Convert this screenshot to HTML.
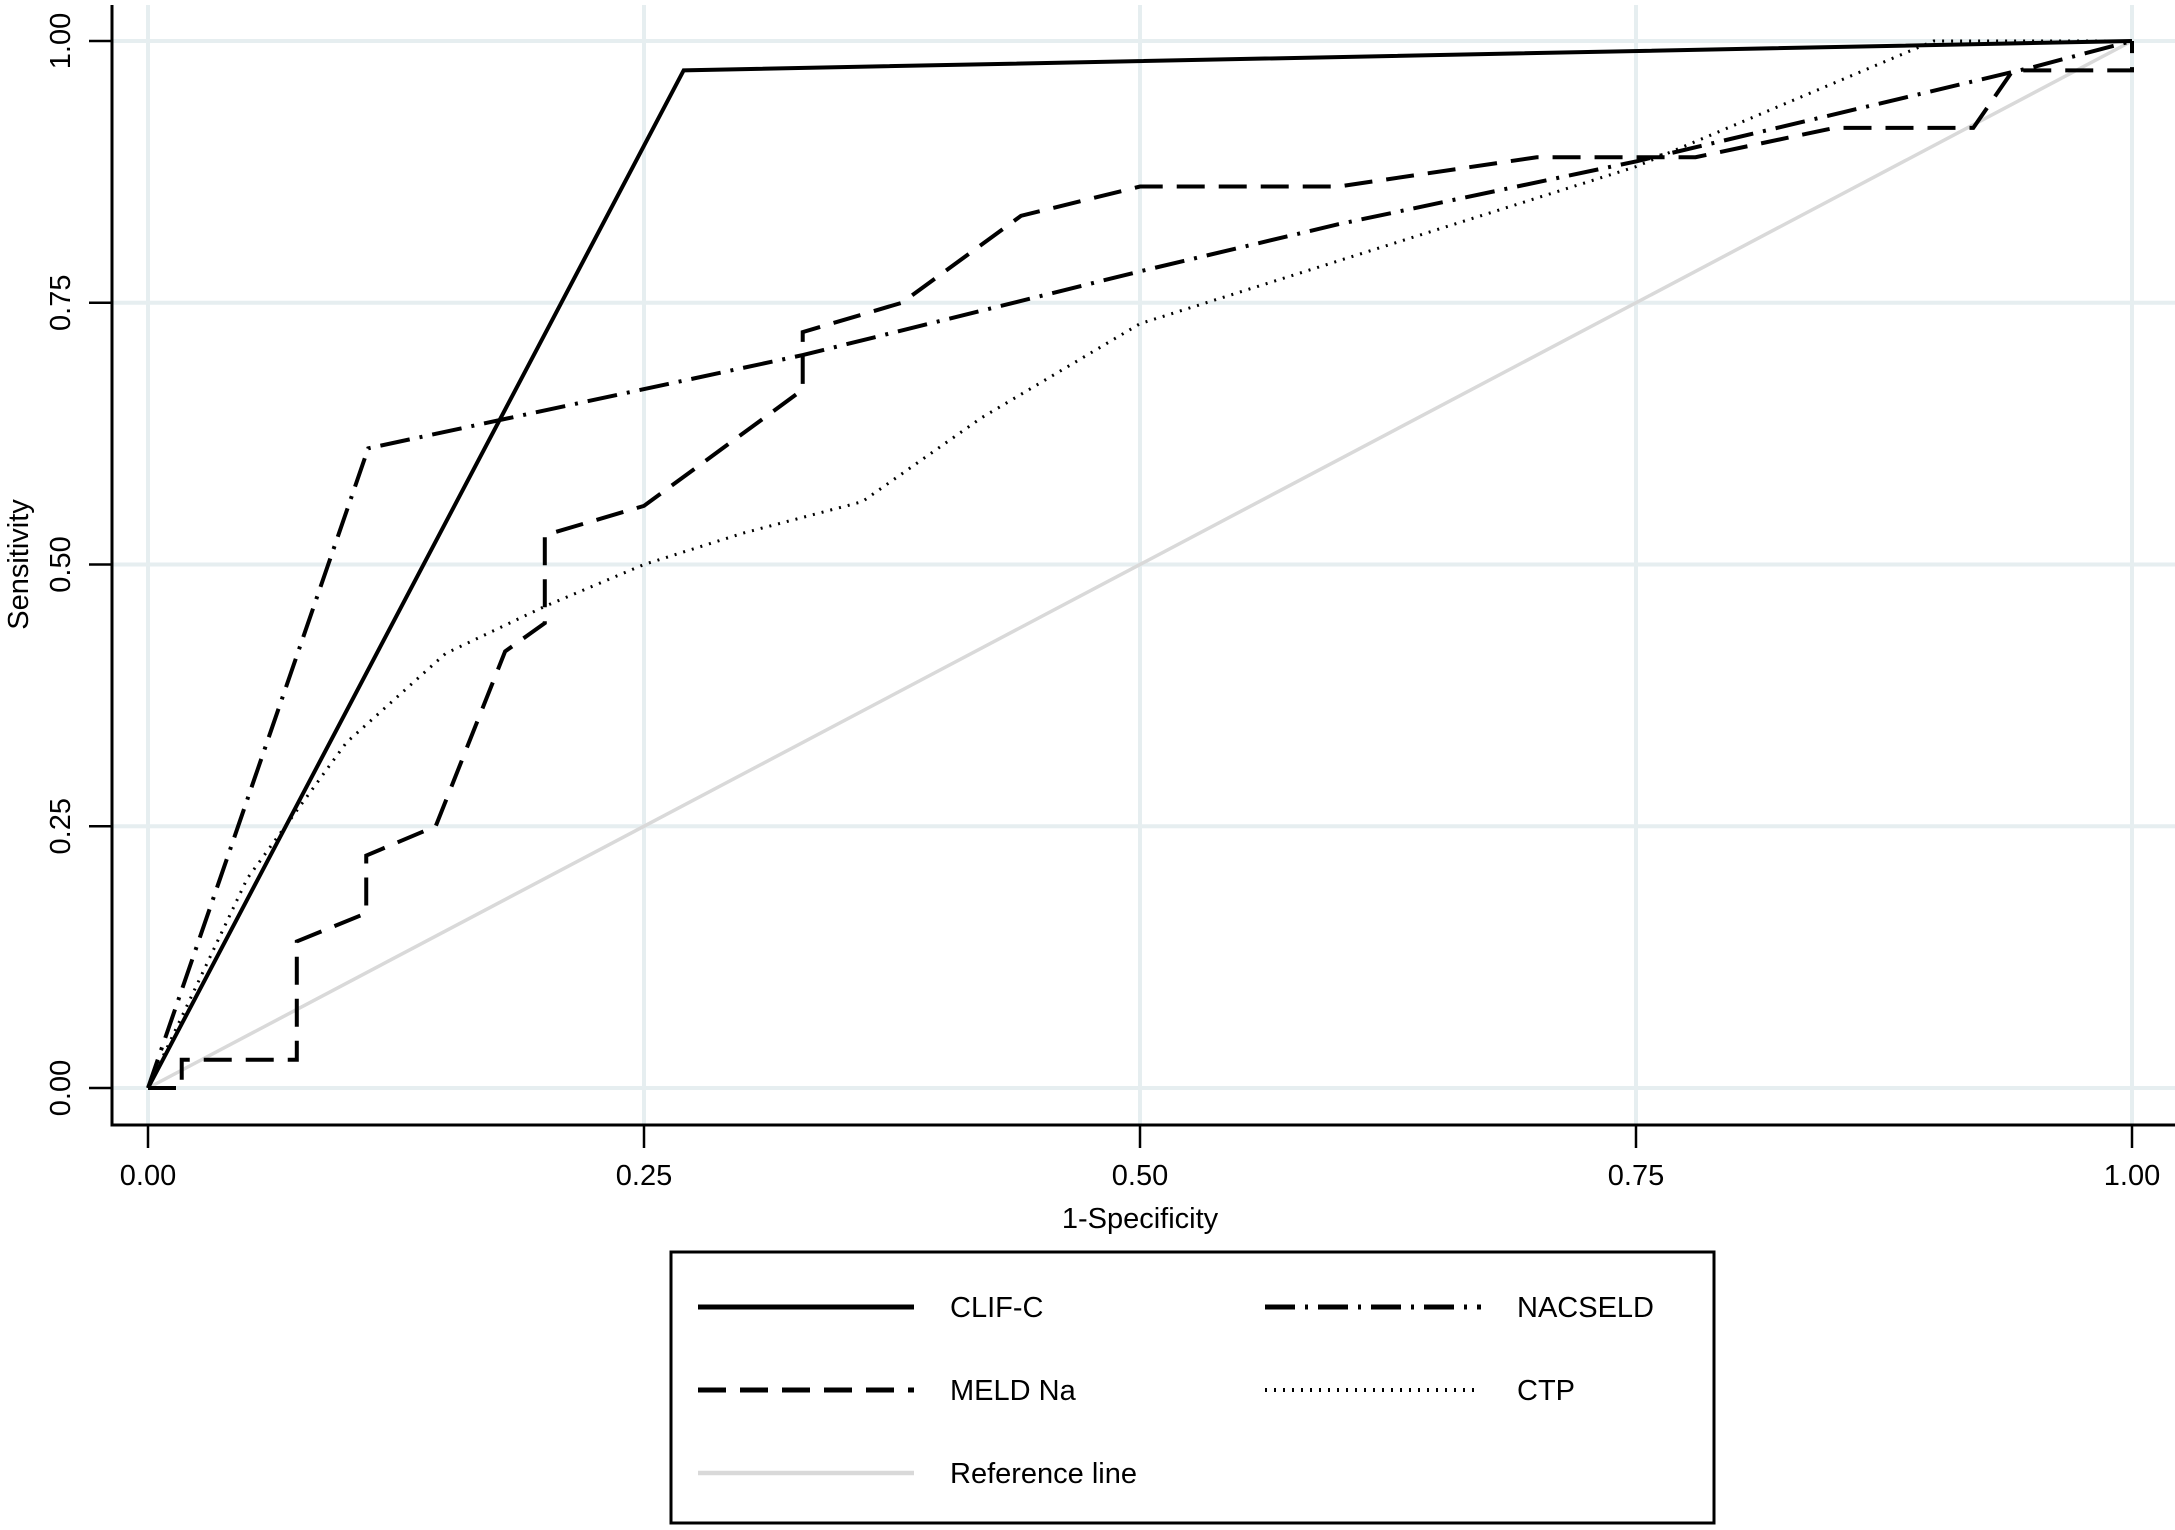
<!DOCTYPE html>
<html><head><meta charset="utf-8"><style>
html,body{margin:0;padding:0;background:#fff;}
svg{display:block;font-family:"Liberation Sans",sans-serif;}
</style></head><body>
<svg id="chart" width="2175" height="1530" viewBox="0 0 2175 1530" xmlns="http://www.w3.org/2000/svg">
<rect width="2175" height="1530" fill="#fff"/>
<g id="grid"></g>
<g id="series"></g>
<g id="axes"></g>
<g id="legend"></g>
</svg>
<script>
const xTicks=[0,0.25,0.5,0.75,1];
const yTicks=[0,0.25,0.5,0.75,1];
const tickLabels=["0.00","0.25","0.50","0.75","1.00"];
const clifX=[0,0.27,1];
const clifY=[0,0.972,1];
const nacX=[0,0.111,0.33,0.5,0.6,0.75,0.95,1];
const nacY=[0,0.611,0.70,0.78,0.825,0.885,0.975,1];
const meldX=[0,0.017,0.017,0.075,0.075,0.11,0.11,0.145,0.18,0.2,0.2,0.25,0.33,0.33,0.38,0.44,0.5,0.6,0.7,0.78,0.85,0.92,0.94,1,1];
const meldY=[0,0,0.027,0.027,0.14,0.167,0.222,0.25,0.417,0.444,0.528,0.556,0.667,0.722,0.75,0.833,0.861,0.861,0.889,0.889,0.917,0.917,0.972,0.972,1];
const ctpX=[0,0.05,0.1,0.15,0.2,0.25,0.3,0.36,0.42,0.5,0.6,0.75,0.9,1];
const ctpY=[0,0.2,0.33,0.415,0.46,0.5,0.53,0.56,0.64,0.73,0.79,0.88,1,1];
const refX=[0,1];
const refY=[0,1];

const NS="http://www.w3.org/2000/svg";
const X0=148,X1=2132,Y0=1088,Y1=41;
function sx(v){return X0+(X1-X0)*v;}
function sy(v){return Y0-(Y0-Y1)*v;}
function mk(tag,attrs,parent){const e=document.createElementNS(NS,tag);for(const k in attrs)e.setAttribute(k,attrs[k]);parent.appendChild(e);return e;}
const grid=document.getElementById('grid'),axes=document.getElementById('axes'),series=document.getElementById('series'),legend=document.getElementById('legend');

xTicks.forEach((t,i)=>{
  const g=mk('line',{x1:sx(t),x2:sx(t),y1:5,y2:1125,stroke:'#e6eef0','stroke-width':4},grid);
  
  
  const tk=mk('line',{x1:sx(t),x2:sx(t),y1:1125,y2:1148,stroke:'#000','stroke-width':2.5},axes);
  
  
  const tx=mk('text',{x:sx(t),y:1185,'text-anchor':'middle','font-size':29,fill:'#000'},axes);
  tx.textContent=tickLabels[i];
  
  
});
yTicks.forEach((t,i)=>{
  const g=mk('line',{x1:112,x2:2175,y1:sy(t),y2:sy(t),stroke:'#e6eef0','stroke-width':4},grid);
  
  
  const tk=mk('line',{x1:89,x2:112,y1:sy(t),y2:sy(t),stroke:'#000','stroke-width':2.5},axes);
  
  
  const tx=mk('text',{x:0,y:0,'text-anchor':'middle','font-size':29,fill:'#000',transform:`translate(70,${sy(t)}) rotate(-90)`},axes);
  tx.textContent=tickLabels[i];
  
  
});
const ax=mk('path',{d:'M112,5 V1125 H2175',fill:'none',stroke:'#000','stroke-width':3},axes);


const xt=mk('text',{x:sx(0.5),y:1228,'text-anchor':'middle','font-size':29,fill:'#000'},axes);
xt.textContent='1-Specificity';


const yt=mk('text',{x:0,y:0,'text-anchor':'middle','font-size':29,fill:'#000',transform:`translate(28,${sy(0.5)}) rotate(-90)`},axes);
yt.textContent='Sensitivity';



function pts(xs,ys){return xs.map((x,i)=>sx(x)+','+sy(ys[i])).join(' ');}
const styles={
 ref:{stroke:'#d9d9d9',w:3.5,dash:''},
 ctp:{stroke:'#000',w:3,dash:'2 7'},
 meld:{stroke:'#000',w:4,dash:'28 14'},
 nac:{stroke:'#000',w:4,dash:'30 10 3 10'},
 clif:{stroke:'#000',w:4,dash:''}
};
const refL=mk('polyline',{points:pts(refX,refY),fill:'none',stroke:styles.ref.stroke,'stroke-width':styles.ref.w},series);


const ctpL=mk('polyline',{points:pts(ctpX,ctpY),fill:'none',stroke:'#000','stroke-width':styles.ctp.w,'stroke-dasharray':styles.ctp.dash},series);


const meldL=mk('polyline',{points:pts(meldX,meldY),fill:'none',stroke:'#000','stroke-width':styles.meld.w,'stroke-dasharray':styles.meld.dash},series);


const nacL=mk('polyline',{points:pts(nacX,nacY),fill:'none',stroke:'#000','stroke-width':styles.nac.w,'stroke-dasharray':styles.nac.dash},series);


const clifL=mk('polyline',{points:pts(clifX,clifY),fill:'none',stroke:'#000','stroke-width':styles.clif.w},series);



const box=mk('rect',{x:671,y:1252,width:1043,height:271,fill:'#fff',stroke:'#000','stroke-width':3},legend);


const entries=[
 ['CLIF-C','clif',698,1307],['NACSELD','nac',1265,1307],
 ['MELD Na','meld',698,1390],['CTP','ctp',1265,1390],
 ['Reference line','ref',698,1473]];
entries.forEach(e=>{
  const s=styles[e[1]];
  const g=mk('g',{},legend);
  
  
  const l=mk('line',{x1:e[2],x2:e[2]+216,y1:e[3],y2:e[3],stroke:s.stroke,'stroke-width':s.w+1,'stroke-dasharray':s.dash||'none'},g);
  
  
  const t=mk('text',{x:e[2]+252,y:e[3]+10,'font-size':29,fill:'#000'},g);
  t.textContent=e[0];
  
  
});
</script>
</body></html>
